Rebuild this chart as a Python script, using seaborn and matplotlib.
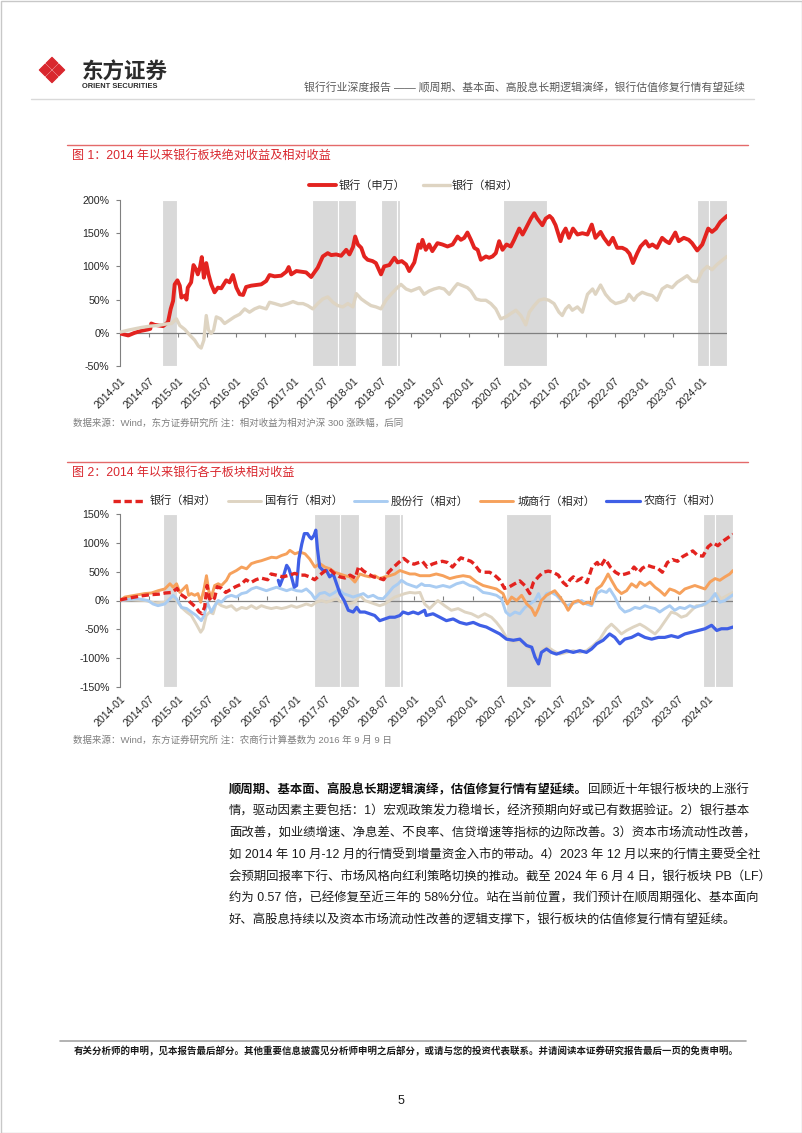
import matplotlib
matplotlib.use('Agg')
import matplotlib.pyplot as plt
import matplotlib.dates as mdates
import matplotlib.transforms as mtrans
from matplotlib.patches import Polygon, Rectangle
import numpy as np
import pandas as pd
import seaborn as sns

# ---------------------------------------------------------------- data
# 图1 银行（申万）绝对收益 %
sw_dates = [
    '2014-01-01','2014-02-22','2014-04-03','2014-05-14','2014-06-25','2014-07-10','2014-07-16','2014-08-06','2014-09-28','2014-10-29','2014-11-15','2014-11-30','2014-12-10','2014-12-27',
    '2015-01-11','2015-01-21','2015-02-12','2015-02-22','2015-03-02','2015-03-23','2015-04-07','2015-04-24','2015-05-04','2015-05-17','2015-05-29','2015-06-11','2015-06-26','2015-07-10','2015-07-27','2015-08-17','2015-09-07','2015-09-28','2015-10-29','2015-11-19','2015-12-10',
    '2016-01-01','2016-01-22','2016-02-12','2016-03-02','2016-04-03','2016-05-04','2016-06-05','2016-07-06','2016-07-27','2016-08-28','2016-10-08','2016-11-09','2016-11-24','2016-12-10',
    '2017-01-11','2017-02-12','2017-03-13','2017-04-14','2017-05-04','2017-05-25','2017-06-26','2017-07-27','2017-08-17','2017-09-18','2017-10-19','2017-11-20','2017-12-10',
    '2018-01-01','2018-01-15','2018-02-01','2018-02-22','2018-03-13','2018-04-03','2018-05-04','2018-05-25','2018-06-26','2018-07-16','2018-08-17','2018-09-18','2018-10-08','2018-11-03','2018-11-30','2018-12-20',
    '2019-01-21','2019-02-16','2019-03-02','2019-03-13','2019-04-03','2019-04-24','2019-05-14','2019-06-15','2019-07-16','2019-08-17','2019-09-18','2019-10-19','2019-11-09','2019-11-30','2019-12-20',
    '2020-01-11','2020-02-01','2020-02-22','2020-03-13','2020-04-14','2020-05-04','2020-05-25','2020-06-15','2020-07-06','2020-07-27','2020-08-21','2020-09-17','2020-10-08','2020-11-09','2020-11-30','2020-12-20',
    '2021-01-21','2021-02-11','2021-03-02','2021-04-03','2021-04-24','2021-05-18','2021-06-04','2021-06-25','2021-07-26','2021-08-10','2021-08-27','2021-09-17','2021-10-12','2021-11-09','2021-12-10',
    '2022-01-11','2022-02-07','2022-03-02','2022-04-03','2022-04-24','2022-05-25','2022-06-19','2022-07-16','2022-08-17','2022-09-11','2022-10-02','2022-10-23','2022-11-19','2022-12-10',
    '2023-01-11','2023-02-01','2023-02-22','2023-03-23','2023-04-24','2023-05-18','2023-06-08','2023-07-16','2023-08-06','2023-09-07','2023-10-08','2023-10-29','2023-11-30',
    '2024-01-01','2024-02-07','2024-03-02','2024-03-27','2024-04-23','2024-06-04']
sw_vals = [
    -1, -4, 0, 3, 5, 6, 14, 12, 10, 16, 36, 48, 73, 79,
    71, 53, 56, 50, 68, 76, 102, 95, 88, 98, 114, 83, 105, 88, 73, 61, 68, 67, 79, 76, 87,
    68, 58, 57, 69, 71, 72, 73, 78, 87, 85, 86, 92, 99, 88,
    93, 92, 91, 84, 91, 98, 115, 120, 117, 118, 116, 125, 118,
    129, 145, 133, 128, 115, 110, 108, 105, 88, 100, 102, 113, 106, 108, 103, 93,
    106, 133, 128, 140, 125, 133, 123, 135, 133, 130, 133, 145, 140, 143, 151,
    140, 128, 125, 110, 115, 113, 115, 120, 138, 125, 133, 130, 140, 157, 148, 157,
    172, 180, 172, 162, 172, 176, 172, 162, 138, 150, 157, 143, 157, 148, 150,
    148, 163, 143, 152, 143, 133, 143, 128, 128, 125, 119, 105, 120, 130,
    138, 130, 133, 128, 143, 138, 135, 151, 138, 143, 140, 135, 124,
    133, 157, 152, 157, 167, 176]

# 银行（相对）%  (图1 与 图2 共用)
rel_dates = [
    '2014-01-01','2014-02-22','2014-04-03','2014-05-14','2014-07-06','2014-08-28','2014-10-09','2014-11-20','2014-12-21',
    '2015-01-11','2015-02-12','2015-03-13','2015-04-14','2015-05-08','2015-05-25','2015-06-11','2015-06-26','2015-07-10','2015-07-27','2015-08-11','2015-08-28','2015-09-24','2015-10-19','2015-11-19','2015-12-20',
    '2016-01-22','2016-02-22','2016-03-23','2016-04-24','2016-05-25','2016-07-06','2016-07-27','2016-08-28','2016-10-08','2016-11-20','2016-12-21',
    '2017-01-22','2017-02-22','2017-03-23','2017-04-24','2017-05-25','2017-06-26','2017-07-27','2017-08-28','2017-09-28','2017-10-29','2017-11-30',
    '2018-01-01','2018-01-22','2018-02-22','2018-03-23','2018-04-24','2018-05-25','2018-06-26','2018-07-27','2018-08-28','2018-09-28','2018-10-29','2018-11-30',
    '2019-01-01','2019-02-01','2019-02-22','2019-03-23','2019-04-24','2019-05-25','2019-06-26','2019-07-27','2019-08-28','2019-09-28','2019-10-19','2019-11-20','2019-12-20',
    '2020-01-11','2020-02-12','2020-03-13','2020-04-14','2020-05-15','2020-06-15','2020-07-16','2020-08-17','2020-09-17','2020-10-19','2020-11-19','2020-12-20',
    '2021-01-11','2021-02-11','2021-03-13','2021-04-14','2021-05-14','2021-06-15','2021-07-16','2021-08-06','2021-08-27','2021-09-17','2021-10-08','2021-11-09','2021-12-10',
    '2022-01-11','2022-02-12','2022-03-02','2022-04-03','2022-05-04','2022-06-05','2022-07-06','2022-08-06','2022-09-07','2022-09-28','2022-10-29','2022-11-19','2022-12-20',
    '2023-01-21','2023-02-22','2023-03-23','2023-04-24','2023-05-25','2023-06-26','2023-07-27','2023-08-28','2023-09-28','2023-10-29','2023-11-30',
    '2024-01-01','2024-02-01','2024-03-02','2024-04-03','2024-06-04']
rel_vals = [
    1, 4, 6, 8, 10, 11, 13, 14, 21,
    11, 5, -3, -11, -20, -23, -11, 26, 4, -1, 4, 24, 21, 14, 19, 24,
    28, 36, 31, 36, 39, 36, 46, 44, 41, 44, 47,
    44, 44, 41, 36, 44, 51, 54, 46, 41, 39, 44,
    39, 59, 51, 46, 41, 39, 36, 49, 58, 66, 73, 66,
    63, 66, 68, 58, 63, 66, 68, 66, 58, 68, 74, 71, 68,
    63, 51, 49, 49, 44, 36, 21, 24, 29, 34, 26, 12,
    31, 41, 49, 51, 49, 44, 31, 26, 36, 41, 34, 39, 31,
    58, 66, 58, 72, 58, 49, 44, 46, 49, 58, 49, 56, 61,
    58, 56, 49, 66, 71, 68, 76, 81, 86, 78, 77,
    93, 100, 95, 103, 115]

# 国有行（相对）%
soe_dates = [
    '2014-01-01','2014-03-12','2014-06-04','2014-08-05','2014-10-06','2014-11-17','2014-12-18',
    '2015-01-18','2015-02-19','2015-03-20','2015-04-20','2015-05-17','2015-06-01','2015-06-21','2015-07-12','2015-08-02','2015-08-23','2015-09-23','2015-10-24','2015-11-24','2015-12-25',
    '2016-01-26','2016-02-26','2016-03-27','2016-04-27','2016-05-28','2016-06-28','2016-07-29','2016-08-30','2016-09-30','2016-11-01','2016-12-01',
    '2017-01-02','2017-02-03','2017-03-03','2017-04-04','2017-05-05','2017-06-05','2017-07-06','2017-08-07','2017-09-07','2017-10-08','2017-11-19','2017-12-30',
    '2018-01-30','2018-03-01','2018-04-01','2018-05-02','2018-06-02','2018-07-03','2018-08-03','2018-09-04','2018-10-05','2018-11-05','2018-12-06',
    '2019-01-07','2019-02-07','2019-03-08','2019-04-08','2019-05-29','2019-07-10','2019-08-21','2019-10-02','2019-11-13','2019-12-24',
    '2020-02-04','2020-03-15','2020-04-26','2020-05-27','2020-06-27','2020-07-28','2020-09-09','2020-10-19','2020-11-30',
    '2021-01-11','2021-02-12','2021-03-13','2021-04-13','2021-05-14','2021-06-24','2021-08-05','2021-09-16','2021-10-27','2021-12-07',
    '2022-01-18','2022-02-28','2022-04-10','2022-05-11','2022-06-11','2022-07-12','2022-08-13','2022-09-24','2022-11-04','2022-12-05',
    '2023-01-05','2023-02-06','2023-03-07','2023-04-18','2023-05-18','2023-06-19','2023-07-19','2023-08-20','2023-09-21','2023-10-21','2023-11-22','2023-12-23',
    '2024-01-23','2024-02-24','2024-03-24','2024-05-01','2024-06-04']
soe_vals = [
    0, 1, 0, -4, -3, 6, 0,
    -12, -20, -26, -41, -55, -49, -26, -20, -23, -3, -9, -12, -9, -17,
    -12, -14, -9, -14, -9, -12, -14, -12, -14, -12, -9,
    -12, -9, -6, -9, -3, 0, -3, 0, 3, -3, -6, -3,
    9, 0, -3, -6, -9, -6, 0, 6, 9, 12, 14,
    13, 14, -6, -14, 0, -9, -17, -14, -20, -23,
    -29, -23, -29, -38, -49, -64, -72, -69, -78,
    -90, -100, -84, -81, -87, -93, -90, -87, -90, -87,
    -78, -67, -49, -41, -49, -58, -52, -46, -41, -46,
    -52, -58, -49, -32, -20, -23, -29, -26, -17, -9, -9, -6,
    3, 12, 3, 9, 14]

# 股份行（相对）%
jsb_dates = [
    '2014-01-01','2014-02-22','2014-04-23','2014-06-24','2014-07-25','2014-08-25','2014-10-06','2014-11-07','2014-11-27','2014-12-18',
    '2015-01-18','2015-02-19','2015-03-20','2015-04-20','2015-05-21','2015-06-07','2015-06-27','2015-07-22','2015-08-12','2015-09-03','2015-09-23','2015-10-24','2015-11-24','2015-12-25',
    '2016-01-26','2016-02-26','2016-03-27','2016-04-27','2016-05-28','2016-06-28','2016-07-29','2016-08-30','2016-09-30','2016-11-01','2016-12-01',
    '2017-01-02','2017-02-03','2017-03-03','2017-04-04','2017-04-25','2017-05-25','2017-06-26','2017-07-26','2017-08-27','2017-09-21','2017-10-18','2017-11-19','2017-12-19',
    '2018-01-20','2018-02-20','2018-03-21','2018-04-22','2018-05-22','2018-06-23','2018-07-23','2018-08-24','2018-09-25','2018-10-15','2018-11-16','2018-12-16',
    '2019-01-17','2019-02-17','2019-03-08','2019-04-08','2019-05-19','2019-06-30','2019-08-11','2019-09-22','2019-11-02','2019-12-13',
    '2020-01-24','2020-03-05','2020-04-16','2020-05-27','2020-06-27','2020-07-24','2020-08-18','2020-09-19','2020-10-19','2020-11-20','2020-12-21',
    '2021-01-21','2021-02-12','2021-03-02','2021-04-03','2021-05-03','2021-06-04','2021-07-04','2021-08-05','2021-09-06','2021-10-06','2021-11-07','2021-12-07',
    '2022-01-08','2022-02-09','2022-03-09','2022-04-10','2022-04-30','2022-06-01','2022-07-02','2022-08-02','2022-09-03','2022-10-04','2022-11-04','2022-12-05',
    '2023-01-05','2023-02-06','2023-03-07','2023-04-07','2023-05-08','2023-06-08','2023-07-09','2023-08-10','2023-09-10','2023-10-11','2023-11-12','2023-12-13',
    '2024-01-13','2024-02-14','2024-03-14','2024-04-15','2024-05-15','2024-06-04']
jsb_vals = [
    0, 2, 3, 0, -6, -9, -6, 3, 9, 3,
    -12, -14, -20, -26, -35, -26, -3, -20, -9, 0, -3, 6, 9, 6,
    12, 14, 20, 23, 20, 17, 20, 23, 20, 17, 20,
    17, 16, 20, 12, 3, 12, 14, 9, 14, 20, 12, 9, 6,
    9, 12, 6, 9, 4, 3, 12, 23, 29, 35, 29, 26,
    23, 29, 26, 26, 23, 26, 23, 29, 32, 26,
    23, 14, 12, 9, 3, -20, -26, -20, -23, -12, -6,
    0, 12, -3, 12, 14, 9, 0, -9, -6, -3, 0, -6,
    -9, 12, 17, 14, 20, 6, -12, -20, -17, -12, -14, -9,
    -12, -14, -20, -14, -9, -17, -12, -14, -9, -12, -9, -6,
    0, 12, -3, 0, 6, 10]

# 城商行（相对）%
city_dates = [
    '2014-01-01','2014-02-01','2014-04-02','2014-06-04','2014-07-15','2014-08-26','2014-10-06','2014-11-07','2014-11-27','2014-12-18',
    '2015-01-08','2015-01-29','2015-02-19','2015-03-03','2015-03-20','2015-04-10','2015-04-30','2015-05-17','2015-06-07','2015-06-22','2015-07-06','2015-07-22','2015-08-12','2015-09-03','2015-09-23','2015-10-24','2015-11-14','2015-12-05','2015-12-25',
    '2016-01-26','2016-02-26','2016-03-27','2016-04-28','2016-05-28','2016-06-29','2016-07-30','2016-08-30','2016-09-30','2016-11-01','2016-11-21','2016-12-22',
    '2017-01-23','2017-02-23','2017-03-24','2017-04-25','2017-05-26','2017-06-26','2017-07-27','2017-08-27','2017-09-28','2017-10-29','2017-11-29','2017-12-30',
    '2018-01-30','2018-03-01','2018-04-01','2018-05-02','2018-06-02','2018-07-03','2018-08-03','2018-09-04','2018-10-05','2018-11-05','2018-12-06',
    '2019-01-07','2019-02-07','2019-03-08','2019-04-08','2019-05-19','2019-06-30','2019-08-11','2019-09-22','2019-11-02','2019-12-14',
    '2020-01-24','2020-03-05','2020-04-16','2020-05-27','2020-07-07','2020-08-02','2020-08-29','2020-09-29','2020-10-30','2020-12-01',
    '2021-01-01','2021-01-22','2021-02-12','2021-03-02','2021-04-03','2021-05-04','2021-05-24','2021-06-25','2021-07-25','2021-08-15','2021-09-16','2021-10-17','2021-11-17','2021-12-18',
    '2022-01-08','2022-02-09','2022-03-10','2022-03-30','2022-04-20','2022-05-11','2022-06-11','2022-07-12','2022-08-13','2022-09-13','2022-10-14','2022-11-04','2022-12-05',
    '2023-01-05','2023-02-06','2023-03-07','2023-04-07','2023-05-08','2023-06-08','2023-07-09','2023-08-10','2023-09-10','2023-10-11','2023-11-12','2023-12-13',
    '2024-01-13','2024-02-14','2024-03-14','2024-04-15','2024-05-15','2024-06-04']
city_vals = [
    0, 6, 9, 12, 13, 17, 20, 29, 23, 29,
    14, 20, 26, 9, 12, 9, 12, -3, 20, 43, 17, 6, 26, 29, 26, 35, 46, 49, 52,
    58, 55, 64, 67, 69, 72, 75, 74, 78, 81, 87, 81,
    84, 81, 72, 58, 64, 58, 55, 49, 46, 43, 41, 32,
    46, 43, 41, 43, 38, 41, 43, 46, 52, 49, 46,
    46, 43, 43, 43, 46, 43, 38, 41, 43, 41,
    32, 26, 23, 20, 12, -6, 6, 0, 9, -6,
    -14, -26, -14, 0, 9, 14, 17, 6, -6, -17, -3, 0, -6, -3,
    -6, 20, 26, 35, 46, 35, 20, 12, 17, 29, 23, 32, 26,
    32, 23, 17, 9, 20, 17, 12, 20, 23, 26, 23, 20,
    32, 38, 35, 41, 46, 52]

# 农商行（相对）% —— 计算基数 2016-09-09
rural_dates = [
    '2016-09-10','2016-09-20','2016-10-11','2016-11-01','2016-11-15','2016-12-01','2016-12-18',
    '2017-01-02','2017-01-16','2017-02-03','2017-02-19','2017-03-10','2017-03-24','2017-04-04','2017-04-20','2017-05-01','2017-05-11','2017-05-25','2017-06-16','2017-07-06','2017-07-26','2017-08-17','2017-09-07','2017-09-28','2017-10-24','2017-11-19','2017-12-19',
    '2018-01-10','2018-01-30','2018-03-01','2018-04-01','2018-05-02','2018-06-02','2018-07-03','2018-08-03','2018-09-04','2018-10-05','2018-10-25','2018-11-26','2018-12-27',
    '2019-01-27','2019-03-08','2019-03-18','2019-04-29','2019-06-10','2019-07-21','2019-09-01','2019-10-12','2019-11-23',
    '2020-01-04','2020-02-14','2020-03-25','2020-05-06','2020-06-17','2020-07-28','2020-09-09','2020-10-19','2020-11-30',
    '2021-01-01','2021-01-21','2021-02-12','2021-03-02','2021-04-03','2021-05-03','2021-06-04','2021-07-04','2021-08-05','2021-09-16','2021-10-27','2021-12-07',
    '2022-01-08','2022-02-09','2022-03-20','2022-04-30','2022-06-01','2022-07-02','2022-08-02','2022-09-13','2022-10-24','2022-12-05',
    '2023-01-16','2023-02-27','2023-04-07','2023-05-18','2023-06-29','2023-08-10','2023-09-21','2023-11-02','2023-12-13',
    '2024-01-23','2024-02-24','2024-03-24','2024-05-01','2024-06-04']
rural_vals = [
    35, 26, 41, 61, 55, 41, 23,
    26, 72, 98, 116, 116, 110, 107, 113, 122, 90, 58, 52, 52, 41, 46, 29, 12, 0, -17, -20,
    -12, -20, -20, -23, -26, -35, -32, -29, -29, -26, -20, -23, -20,
    -23, -17, -26, -23, -29, -35, -32, -38, -41,
    -38, -43, -46, -52, -58, -67, -69, -67, -78,
    -81, -98, -110, -90, -84, -90, -93, -90, -87, -90, -87, -90,
    -84, -75, -69, -58, -64, -75, -67, -64, -58, -64,
    -67, -64, -64, -61, -64, -58, -55, -52, -49,
    -43, -52, -49, -49, -46]

# 阴影区间（行情阶段）
band_starts = ['2014-09-24', '2017-04-20', '2017-09-30', '2018-06-26', '2018-10-03', '2020-07-28', '2023-12-01', '2024-02-15']
band_ends   = ['2014-12-24', '2017-09-30', '2018-01-23', '2018-10-03', '2018-10-25', '2021-05-01', '2024-02-15', '2024-06-04']

x_start, x_end = '2014-01-01', '2024-06-04'
x_tick_labels = ['2014-01', '2014-07', '2015-01', '2015-07', '2016-01', '2016-07', '2017-01',
                 '2017-07', '2018-01', '2018-07', '2019-01', '2019-07', '2020-01', '2020-07',
                 '2021-01', '2021-07', '2022-01', '2022-07', '2023-01', '2023-07', '2024-01']
y_ticks_1 = [-50, 0, 50, 100, 150, 200]
y_ticks_2 = [-150, -100, -50, 0, 50, 100, 150]

# ---------------------------------------------------------------- style
sns.set_theme(style='white')
plt.rcParams['font.family'] = ['Liberation Sans', 'Noto Sans CJK SC']
plt.rcParams['axes.unicode_minus'] = False

RED = '#E3231F'
TAN = '#DED4C2'
LBLUE = '#A9CCF2'
ORANGE = '#F6A15C'
BLUE = '#3F5FE6'
BAND = '#D9D9D9'
AXC = '#808080'
TRED = '#D9272E'
TXT = '#262626'

W, H = 802, 1133
fig = plt.figure(figsize=(W / 100, H / 100), dpi=100)
page = fig.add_axes([0, 0, 1, 1], zorder=0)
page.set_xlim(0, W)
page.set_ylim(H, 0)
page.axis('off')


def rect(l, t, r, b):
    return [l / W, 1 - b / H, (r - l) / W, (b - t) / H]


def frame(d, v):
    return pd.DataFrame({'date': pd.to_datetime(d), 'value': v})


def style_axes(ax, ymin, ymax, yticks, lab_pad):
    ax.set_xlim(pd.Timestamp(x_start), pd.Timestamp(x_end))
    ax.set_ylim(ymin, ymax)
    ax.patch.set_alpha(0)
    for s in ['top', 'right', 'bottom']:
        ax.spines[s].set_visible(False)
    ax.spines['left'].set_color(AXC)
    ax.spines['left'].set_linewidth(0.8)
    ax.set_yticks(yticks)
    ax.set_yticklabels([f'{v}%' for v in yticks])
    ax.tick_params(axis='y', left=True, length=3, width=0.8, color=AXC,
                   labelsize=7.7, pad=4.5, labelcolor=TXT)
    tick_pos = pd.to_datetime(x_tick_labels)
    ax.set_xticks(tick_pos)
    ax.set_xticklabels(x_tick_labels, rotation=45, ha='right', va='center',
                       rotation_mode='anchor')
    ax.tick_params(axis='x', bottom=True, length=0, labelsize=7.7, pad=lab_pad,
                   labelcolor=TXT)
    shift = mtrans.ScaledTranslation(0.035, 0, fig.dpi_scale_trans)
    for lab in ax.get_xticklabels():
        lab.set_transform(lab.get_transform() + shift)
    ax.set_xlabel('')
    ax.set_ylabel('')
    ax.grid(False)
    ax.axhline(0, color=AXC, lw=0.9, zorder=1.5)
    for s, e in zip(band_starts, band_ends):
        ax.axvspan(pd.Timestamp(s), pd.Timestamp(e), facecolor=BAND,
                   edgecolor='white', lw=0.8, zorder=0.5)
    frac = (0 - ymin) / (ymax - ymin)
    sec = ax.secondary_xaxis(frac)
    sec.set_xticks(mdates.date2num(tick_pos))
    sec.tick_params(axis='x', length=3, width=0.8, color=AXC, labelbottom=False,
                    labeltop=False, direction='out')
    for sp in sec.spines.values():
        sp.set_visible(False)


# ---------------------------------------------------------------- chart 1
ax1 = fig.add_axes(rect(120, 200, 727, 366))
sns.lineplot(data=frame(sw_dates, sw_vals), x='date', y='value', ax=ax1, color=RED,
             linewidth=2.8, estimator=None, errorbar=None, label='银行（申万）', zorder=3)
sns.lineplot(data=frame(rel_dates, rel_vals), x='date', y='value', ax=ax1, color=TAN,
             linewidth=2.4, estimator=None, errorbar=None, label='银行（相对）', zorder=4)
style_axes(ax1, -50, 200, y_ticks_1, 9.5)
h1, l1 = ax1.get_legend_handles_labels()
ax1.legend(h1, l1, loc='center', bbox_to_anchor=(414 / W, 1 - 186 / H),
           bbox_transform=fig.transFigure, ncol=2, frameon=False, fontsize=8,
           handlelength=2.4, handletextpad=0.2, columnspacing=1.6)

# ---------------------------------------------------------------- chart 2
ax2 = fig.add_axes(rect(120, 514, 733, 687))
sns.lineplot(data=frame(soe_dates, soe_vals), x='date', y='value', ax=ax2, color=TAN,
             linewidth=2.1, estimator=None, errorbar=None, label='国有行（相对）', zorder=2)
sns.lineplot(data=frame(jsb_dates, jsb_vals), x='date', y='value', ax=ax2, color=LBLUE,
             linewidth=2.1, estimator=None, errorbar=None, label='股份行（相对）', zorder=3)
sns.lineplot(data=frame(city_dates, city_vals), x='date', y='value', ax=ax2, color=ORANGE,
             linewidth=2.1, estimator=None, errorbar=None, label='城商行（相对）', zorder=4)
sns.lineplot(data=frame(rural_dates, rural_vals), x='date', y='value', ax=ax2, color=BLUE,
             linewidth=2.3, estimator=None, errorbar=None, label='农商行（相对）', zorder=5)
sns.lineplot(data=frame(rel_dates, rel_vals), x='date', y='value', ax=ax2, color=RED,
             linewidth=2.4, linestyle=(0, (2.2, 1.1)), estimator=None, errorbar=None,
             label='银行（相对）', zorder=6)
style_axes(ax2, -150, 150, y_ticks_2, 7.5)
h2, l2 = ax2.get_legend_handles_labels()
order = ['银行（相对）', '国有行（相对）', '股份行（相对）', '城商行（相对）', '农商行（相对）']
hd = dict(zip(l2, h2))
ax2.legend([hd[k] for k in order], order, loc='center', bbox_to_anchor=(417 / W, 1 - 501 / H),
           bbox_transform=fig.transFigure, ncol=5, frameon=False, fontsize=8,
           handlelength=3.0, handletextpad=0.35, columnspacing=1.0)

# ---------------------------------------------------------------- page decoration
page.add_patch(Rectangle((0.5, 0.5), W - 1, H - 1, fill=False, edgecolor='#c8c8c8', lw=1))

# logo
cx, cy, r = 52, 70, 6.8
for dx, dy in [(0, -r), (-r, 0), (r, 0), (0, r)]:
    x0, y0 = cx + dx, cy + dy
    rr = r - 0.9
    page.add_patch(Polygon([(x0, y0 - rr), (x0 + rr, y0), (x0, y0 + rr), (x0 - rr, y0)],
                           closed=True, facecolor=TRED, edgecolor=TRED, lw=0.8,
                           joinstyle='round'))
page.text(82, 72, '东方证券', fontsize=15.5, fontweight='bold', color='#2b2b2b',
          ha='left', va='center', family=['Noto Sans CJK SC'])
page.text(82, 87, 'ORIENT SECURITIES', fontsize=5.4, fontweight='bold', color='#2b2b2b',
          ha='left', va='center')
page.text(745, 88, '银行行业深度报告 —— 顺周期、基本面、高股息长期逻辑演绎，银行估值修复行情有望延续',
          fontsize=7.8, color='#595959', ha='right', va='center')
page.plot([31, 754], [99, 99], color='#d9d9d9', lw=1)

# figure titles
page.plot([67, 748], [145, 145], color='#E46A6A', lw=1)
page.text(72, 156, '图 1：2014 年以来银行板块绝对收益及相对收益', fontsize=8.7, color=TRED,
          ha='left', va='center')
page.text(73, 423, '数据来源：Wind，东方证券研究所 注：相对收益为相对沪深 300 涨跌幅，后同',
          fontsize=6.8, color='#7f7f7f', ha='left', va='center')

page.plot([67, 748], [462, 462], color='#E46A6A', lw=1)
page.text(72, 473, '图 2：2014 年以来银行各子板块相对收益', fontsize=8.7, color=TRED,
          ha='left', va='center')
page.text(73, 740, '数据来源：Wind，东方证券研究所 注：农商行计算基数为 2016 年 9 月 9 日',
          fontsize=6.8, color='#7f7f7f', ha='left', va='center')

# body text
body_bold = '顺周期、基本面、高股息长期逻辑演绎，估值修复行情有望延续。'
body_lines = [
    '回顾近十年银行板块的上涨行',
    '情，驱动因素主要包括：1）宏观政策发力稳增长，经济预期向好或已有数据验证。2）银行基本',
    '面改善，如业绩增速、净息差、不良率、信贷增速等指标的边际改善。3）资本市场流动性改善，',
    '如 2014 年 10 月-12 月的行情受到增量资金入市的带动。4）2023 年 12 月以来的行情主要受全社',
    '会预期回报率下行、市场风格向红利策略切换的推动。截至 2024 年 6 月 4 日，银行板块 PB（LF）',
    '约为 0.57 倍，已经修复至近三年的 58%分位。站在当前位置，我们预计在顺周期强化、基本面向',
    '好、高股息持续以及资本市场流动性改善的逻辑支撑下，银行板块的估值修复行情有望延续。',
]
BFS = 8.9
bx, by0, dy = 229, 790, 21.8
fig.canvas.draw()
renderer = fig.canvas.get_renderer()
t_a = page.text(0, 0, body_bold + 'I', fontsize=BFS, fontweight='bold')
t_b = page.text(0, 0, 'I', fontsize=BFS, fontweight='bold')
adv = t_a.get_window_extent(renderer).width - t_b.get_window_extent(renderer).width
t_a.remove()
t_b.remove()
page.text(bx, by0, body_bold, fontsize=BFS, fontweight='bold', color='#111111',
          ha='left', va='center')
page.text(bx + adv, by0, body_lines[0], fontsize=BFS, color='#1a1a1a', ha='left', va='center')
for i, line in enumerate(body_lines[1:], start=1):
    page.text(bx, by0 + i * dy, line, fontsize=BFS, color='#1a1a1a', ha='left', va='center')

# footer
page.plot([60, 746], [1041, 1041], color='#a6a6a6', lw=1.2)
page.text(74, 1051, '有关分析师的申明，见本报告最后部分。其他重要信息披露见分析师申明之后部分，或请与您的投资代表联系。并请阅读本证券研究报告最后一页的免责申明。',
          fontsize=6.8, fontweight='bold', color='#1a1a1a', ha='left', va='center')
page.text(401, 1101, '5', fontsize=9, color='#1a1a1a', ha='center', va='center')

fig.savefig('out.png', dpi=100)
